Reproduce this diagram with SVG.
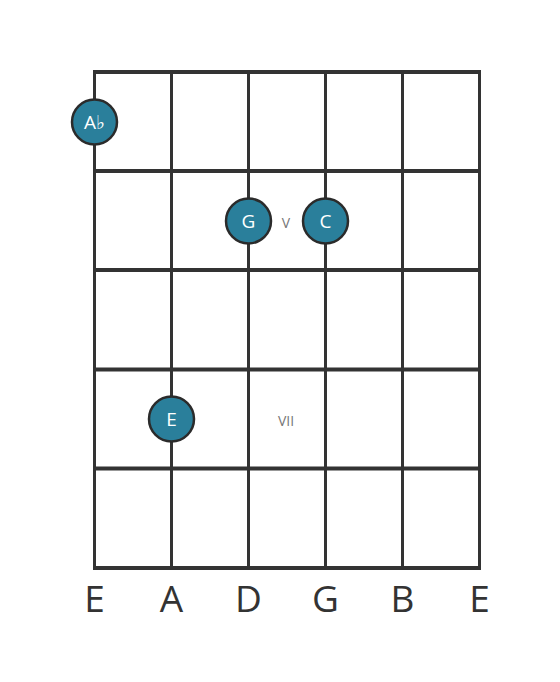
<svg xmlns="http://www.w3.org/2000/svg" width="560" height="682" viewBox="0 0 560 682">
<style>
.fret{stroke:#333;stroke-width:4;}
.str{stroke:#333;stroke-width:3;}
.dot{fill:#2a7f9b;stroke:#2b2b2b;stroke-width:2.5;}
.dt{fill:#fff;font-family:"Open Sans",sans-serif;font-size:19px;text-anchor:middle;dominant-baseline:central;}
.pos{fill:#777;font-family:"Open Sans",sans-serif;font-size:14px;text-anchor:middle;dominant-baseline:central;}
.sn{fill:#333;font-family:"Open Sans",sans-serif;font-size:37px;text-anchor:middle;}
</style>
<rect width="560" height="682" fill="#fff"/>
<g id="connectors">
<line class="str" x1="94.5" y1="72" x2="94.5" y2="568"/>
<line class="str" x1="171.5" y1="72" x2="171.5" y2="568"/>
<line class="str" x1="248.5" y1="72" x2="248.5" y2="568"/>
<line class="str" x1="325.5" y1="72" x2="325.5" y2="568"/>
<line class="str" x1="402.5" y1="72" x2="402.5" y2="568"/>
<line class="str" x1="479.5" y1="72" x2="479.5" y2="568"/>
<line class="fret" x1="93" y1="72" x2="481" y2="72"/>
<line class="fret" x1="93" y1="171" x2="481" y2="171"/>
<line class="fret" x1="93" y1="270" x2="481" y2="270"/>
<line class="fret" x1="93" y1="369.5" x2="481" y2="369.5"/>
<line class="fret" x1="93" y1="468.5" x2="481" y2="468.5"/>
<line class="fret" x1="93" y1="568" x2="481" y2="568"/>
</g>
<g id="note-Ab"><circle class="dot" cx="94.5" cy="122" r="22.5"/><text class="dt" x="94.5" y="122">A♭</text></g>
<g id="note-G"><circle class="dot" cx="248.5" cy="221" r="22.5"/><text class="dt" x="248.5" y="221">G</text></g>
<g id="note-C"><circle class="dot" cx="325.5" cy="221" r="22.5"/><text class="dt" x="325.5" y="221">C</text></g>
<g id="note-E"><circle class="dot" cx="171.5" cy="419" r="22.5"/><text class="dt" x="171.5" y="419">E</text></g>
<g id="pos-V"><text class="pos" x="286" y="222">V</text></g>
<g id="pos-VII"><text class="pos" x="286" y="420">VII</text></g>
<g id="strings">
<text class="sn" x="94.5" y="612">E</text>
<text class="sn" x="171.5" y="612">A</text>
<text class="sn" x="248.5" y="612">D</text>
<text class="sn" x="325.5" y="612">G</text>
<text class="sn" x="402.5" y="612">B</text>
<text class="sn" x="479.5" y="612">E</text>
</g>
</svg>
